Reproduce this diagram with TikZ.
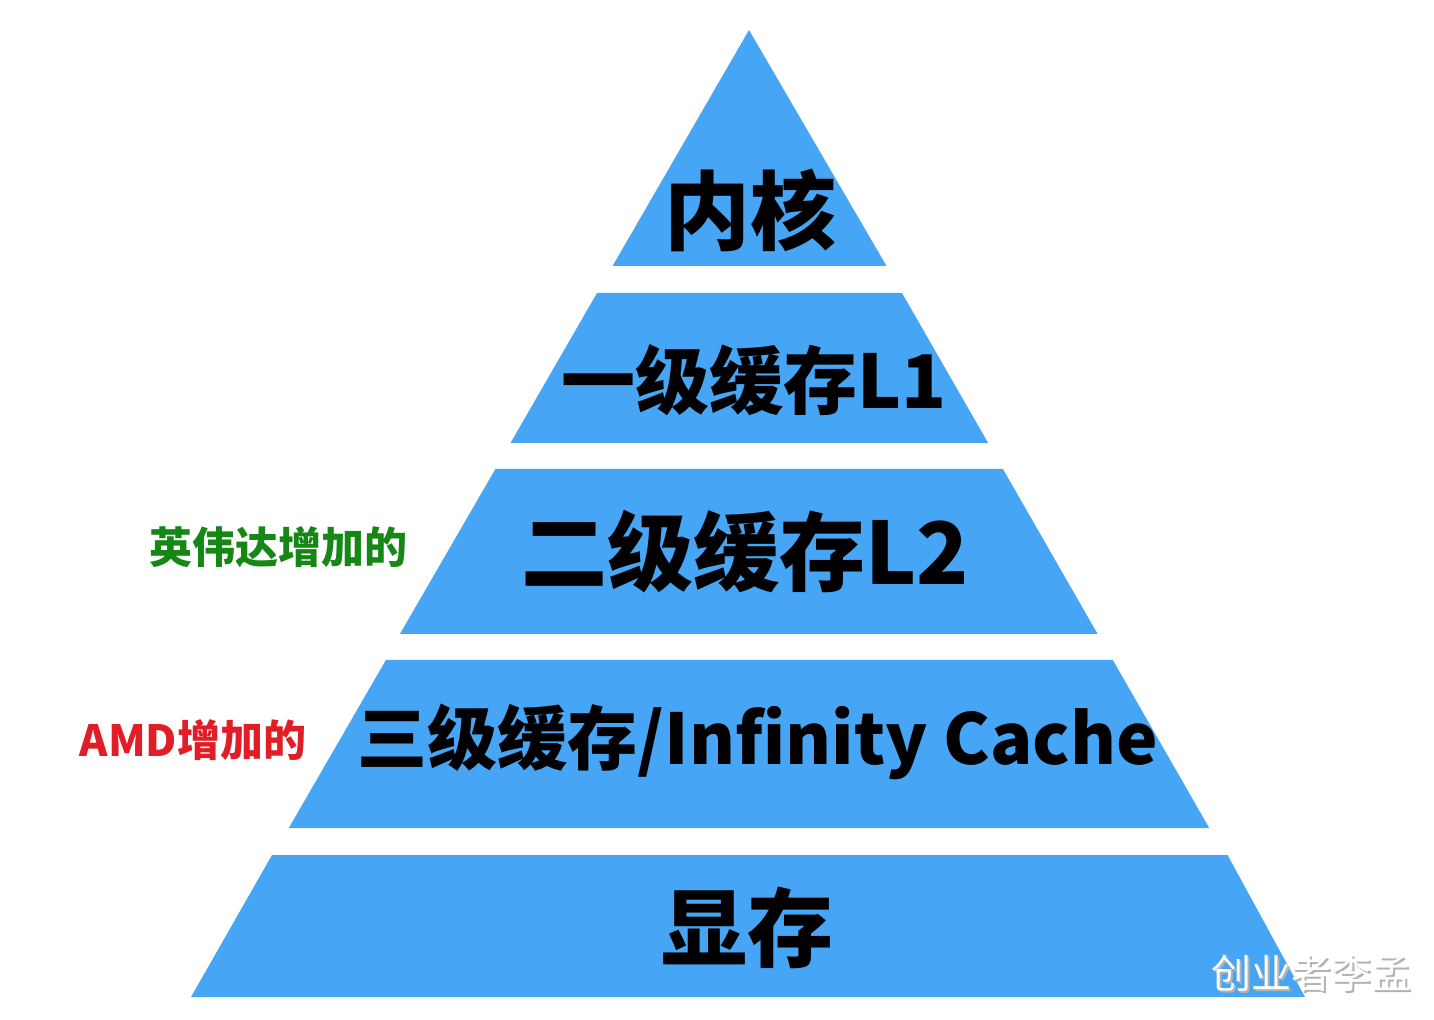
\documentclass[tikz,border=0pt]{standalone}
\usepackage{fontspec}
\newfontfamily\cjk{Noto Sans CJK SC}
\definecolor{layerblue}{RGB}{70,166,245}
\definecolor{nvgreen}{RGB}{20,135,20}
\definecolor{amdred}{RGB}{225,30,40}
\begin{document}
\begin{tikzpicture}[x=0.5pt,y=-0.5pt,
  layer/.style={fill=layerblue,draw=none},
  big/.style={font=\cjk\bfseries\fontsize{#1}{#1}\selectfont,text=black,inner sep=0pt,anchor=center},
  side/.style={font=\cjk\bfseries\fontsize{21.5}{21.5}\selectfont,inner sep=0pt}]
\useasboundingbox (0,0) rectangle (1434,1020);
\fill[white] (0,0) rectangle (1434,1020);
% layers (apex at 749,30; left slope 0.578, right slope 0.574)
\path[layer] (749,30) -- (886.5,266) -- (612.6,266) -- cycle;
\path[layer] (597.0,293) -- (902.0,293) -- (988.1,443) -- (510.5,443) -- cycle;
\path[layer] (495.4,469) -- (1002.9,469) -- (1097.6,634) -- (399.9,634) -- cycle;
\path[layer] (385.9,660) -- (1112.8,660) -- (1209.2,828) -- (288.8,828) -- cycle;
\path[layer] (272.0,855) -- (1227.5,855) -- (1305.0,997) -- (191.0,997) -- cycle;
% texts
\node[big=43] (core) at (750,210) {内核};
\node[big=37] (l1) at (754,380) {一级缓存L1};
\node[big=43] (l2) at (745,552) {二级缓存L2};
\node[big=35] (l3) at (758,742) {三级缓存/Infinity Cache};
\node[big=43] (vram) at (747,928) {显存};
\node[side,text=nvgreen] (nv) at (278,547) {英伟达增加的};
\node[side,text=amdred] (amd) at (193,740) {AMD增加的};
\node[font=\cjk\fontsize{20}{20}\selectfont,text=gray!60,inner sep=0pt] (wm2) at (1313,975) {创业者李孟};
\node[font=\cjk\fontsize{20}{20}\selectfont,text=white,inner sep=0pt] (wm) at (1311,973) {创业者李孟};
\end{tikzpicture}
\end{document}
